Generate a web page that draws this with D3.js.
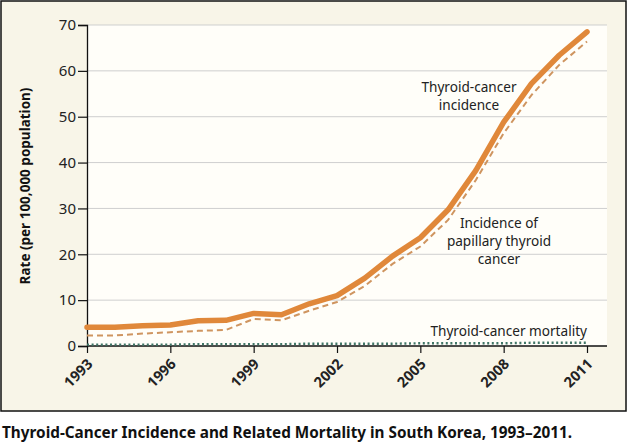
<!DOCTYPE html>
<html><head><meta charset="utf-8">
<script src="https://cdn.jsdelivr.net/npm/d3@7"></script>
<style>
html,body{margin:0;padding:0;background:#fff;}
svg{display:block;}
text{font-family:"Noto Sans","Open Sans",sans-serif;}
</style></head>
<body>
<svg id="c" width="628" height="442"></svg>
<script>
const years = [1993,1994,1995,1996,1997,1998,1999,2000,2001,2002,2003,2004,2005,2006,2007,2008,2009,2010,2011];
const incidence = [4.1,4.1,4.4,4.6,5.5,5.6,7.1,6.8,9.2,11.0,14.8,19.6,23.6,29.7,38.3,48.8,57.2,63.4,68.5];
const papillary = [2.3,2.3,2.7,3.0,3.3,3.5,5.9,5.6,7.7,9.6,13.1,17.9,21.7,27.5,36.2,46.4,54.7,61.3,66.4];
const mortality = [0.3,0.3,0.3,0.3,0.4,0.4,0.4,0.4,0.5,0.5,0.5,0.5,0.6,0.6,0.6,0.6,0.7,0.7,0.7];
const xTickYears = [1993,1996,1999,2002,2005,2008,2011];
const yTicks = [0,10,20,30,40,50,60,70];
const yTitle = "Rate (per 100,000 population)";
const caption = "Thyroid-Cancer Incidence and Related Mortality in South Korea, 1993\u20132011.";

const svg = d3.select("#c");
// outer box
svg.append("rect").attr("x",1).attr("y",1).attr("width",625).attr("height",410)
  .attr("fill","#f8f5e8").attr("stroke","#111").attr("stroke-width",1.5);

const x = d3.scaleLinear().domain([1993,2011]).range([87,587]);
const y = d3.scaleLinear().domain([0,70]).range([346,25]);
const xRight = 607;

// plot area
svg.append("rect").attr("x",x(1993)).attr("y",y(70)).attr("width",xRight-x(1993)).attr("height",y(0)-y(70))
  .attr("fill","#fffef9");

// gridlines
svg.append("g").selectAll("line").data(yTicks.filter(d=>d>0)).join("line")
  .attr("x1",x(1993)).attr("x2",xRight).attr("y1",d=>y(d)).attr("y2",d=>y(d))
  .attr("stroke","#cfcfcf").attr("stroke-width",1);

// y axis
const yAxis = d3.axisLeft(y).tickValues(yTicks).tickSize(9).tickPadding(2);
const gy = svg.append("g").attr("transform",`translate(${x(1993)},0)`).call(yAxis);
gy.select(".domain").attr("stroke","#111").attr("stroke-width",1.3);
gy.selectAll(".tick line").attr("stroke","#111").attr("stroke-width",1.2);
gy.selectAll(".tick text").attr("font-size",15).attr("fill","#222").attr("font-family","Lato,sans-serif");

// x axis
const xAxis = d3.axisBottom(x).tickValues(xTickYears).tickSize(7).tickFormat(d3.format("d"));
const gx = svg.append("g").attr("transform",`translate(0,${y(0)})`).call(xAxis);
gx.select(".domain").attr("d",`M${x(1993)},0H${xRight}`).attr("stroke","#111").attr("stroke-width",1.3);
gx.selectAll(".tick line").attr("stroke","#111").attr("stroke-width",1.2);
gx.selectAll(".tick text")
  .attr("font-size",14.5).attr("font-weight","bold").attr("fill","#222").attr("font-family","Lato,sans-serif")
  .attr("text-anchor","end").attr("dy",null).attr("y",null)
  .attr("transform","translate(6,19) rotate(-45)");

const line = d3.line().x((d,i)=>x(years[i])).y(d=>y(d));

svg.append("path").datum(mortality).attr("d",line).attr("fill","none")
  .attr("stroke","#3f7566").attr("stroke-width",2.4).attr("stroke-dasharray","2 2.6").attr("stroke-linecap","butt");
svg.append("path").datum(papillary).attr("d",line).attr("fill","none")
  .attr("stroke","#cf9560").attr("stroke-width",2).attr("stroke-dasharray","6 4");
svg.append("path").datum(incidence).attr("d",line).attr("fill","none")
  .attr("stroke","#e0883a").attr("stroke-width",5.5).attr("stroke-linejoin","round").attr("stroke-linecap","round");

// y title
svg.append("text").attr("transform","translate(30,186) rotate(-90)")
  .attr("text-anchor","middle").attr("font-size",13.5).attr("font-weight","bold").attr("fill","#111")
  .text(yTitle);

// annotations
function multi(lines, cx, y0, dy, anchor){
  lines.forEach((s,i)=>svg.append("text").attr("font-size",13.6).attr("fill","#222").attr("text-anchor",anchor)
    .attr("font-family","Lato,sans-serif").attr("x",cx).attr("y",y0+i*dy).text(s));
}
multi(["Thyroid-cancer","incidence"], 469, 92, 18, "middle");
multi(["Incidence of","papillary thyroid","cancer"], 499, 228, 18, "middle");
multi(["Thyroid-cancer mortality"], 587, 336, 18, "end");

// caption
svg.append("text").attr("x",2).attr("y",438).attr("font-size",15.5).attr("font-weight","bold").attr("fill","#111")
  .attr("textLength",570).attr("lengthAdjust","spacingAndGlyphs")
  .text(caption);
</script>
</body></html>
